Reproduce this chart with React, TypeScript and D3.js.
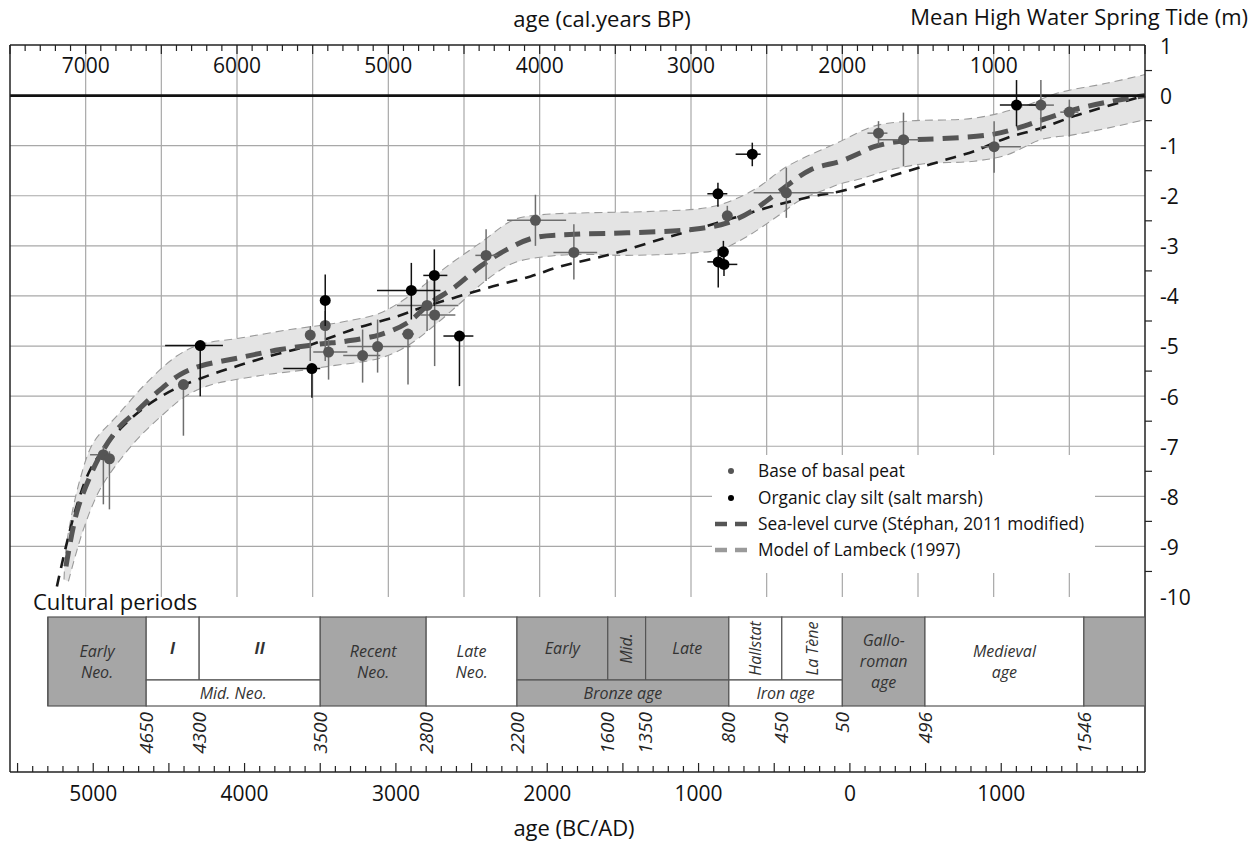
import React from 'react';
import * as d3 from 'd3';

const W = 1259;
const H = 841;

// index points: [age BP, level (m), oldest BP, youngest BP, upper m, lower m]
const basalPeat = [
  [6883, -7.17, 6971, 6825, -7.0, -8.16],
  [6843, -7.25, 6860, 6825, -7.1, -8.26],
  [6354, -5.77, 6370, 6340, -5.77, -6.79],
  [5516, -4.78, 5530, 5500, -4.6, -5.3],
  [5417, -4.59, 5430, 5405, -4.3, -5.3],
  [5395, -5.12, 5496, 5271, -4.87, -5.67],
  [5170, -5.19, 5298, 5053, -4.67, -5.73],
  [5071, -5.01, 5271, 4854, -4.47, -5.53],
  [4870, -4.76, 4910, 4830, -4.76, -5.77],
  [4744, -4.19, 4943, 4537, -3.67, -4.7],
  [4694, -4.38, 4788, 4557, -3.67, -5.4],
  [4354, -3.19, 4425, 4279, -2.67, -3.7],
  [4028, -2.49, 4215, 3825, -1.98, -3.0],
  [3774, -3.13, 3909, 3620, -2.57, -3.67],
  [2760, -2.4, 2770, 2750, -2.2, -2.5],
  [2370, -1.94, 2586, 2057, -1.44, -2.44],
  [1761, -0.75, 1834, 1702, -0.51, -0.98],
  [1596, -0.88, 1761, 1493, -0.34, -1.41],
  [997, -1.02, 1085, 820, -0.51, -1.54],
  [688, -0.19, 767, 602, 0.31, -0.71],
  [500, -0.33, 560, 440, -0.08, -0.82],
];

const saltMarsh = [
  [6243, -4.99, 6475, 6093, -4.99, -6.0],
  [5505, -5.45, 5694, 5450, -5.45, -6.03],
  [5417, -4.09, 5440, 5395, -3.57, -4.6],
  [4848, -3.89, 5075, 4656, -3.34, -4.47],
  [4696, -3.59, 4769, 4610, -3.07, -4.2],
  [4530, -4.8, 4636, 4438, -4.8, -5.8],
  [2822, -1.96, 2892, 2760, -1.74, -2.22],
  [2595, -1.17, 2705, 2540, -0.94, -1.41],
  [2786, -3.12, 2796, 2776, -2.9, -3.35],
  [2820, -3.32, 2892, 2760, -3.07, -3.83],
  [2782, -3.37, 2826, 2694, -3.2, -3.6],
  [849, -0.19, 959, 721, 0.31, -0.61],
];

// curves: [age BP, level (m)]
const stephanCurve = [
  [7130, -9.4], [7059, -8.32], [6971, -7.6], [6883, -7.07], [6772, -6.6], [6662, -6.3],
  [6530, -5.93], [6376, -5.57], [6243, -5.4], [5979, -5.23], [5714, -5.07], [5450, -4.96],
  [5273, -4.9], [5053, -4.77], [4876, -4.54], [4722, -4.14], [4568, -3.84], [4392, -3.41],
  [4215, -3.07], [4039, -2.84], [3774, -2.77], [3421, -2.74], [2981, -2.67], [2760, -2.54],
  [2584, -2.28], [2429, -1.94], [2209, -1.48], [2011, -1.31], [1878, -1.14], [1790, -1.02],
  [1570, -0.89], [1349, -0.86], [1019, -0.78], [842, -0.65], [644, -0.45], [468, -0.28],
  [247, -0.13], [0, 0],
];

const envelopeTop = [
  [7143, -9.66], [7125, -8.93], [7037, -7.66], [6949, -6.93], [6795, -6.4], [6596, -5.73],
  [6398, -5.2], [6243, -4.97], [5979, -4.84], [5648, -4.67], [5405, -4.57], [5273, -4.5],
  [5053, -4.34], [4833, -3.94], [4612, -3.41], [4392, -2.94], [4171, -2.48], [3995, -2.38],
  [3686, -2.34], [3245, -2.31], [2848, -2.21], [2584, -1.88], [2363, -1.41], [2032, -0.94],
  [1790, -0.61], [1570, -0.51], [1129, -0.45], [798, -0.21], [577, 0.05], [247, 0.25], [0, 0.42],
];

const envelopeBottom = [
  [7114, -9.7], [7015, -8.66], [6905, -7.86], [6772, -7.27], [6640, -6.8], [6464, -6.3],
  [6354, -6.03], [6199, -5.8], [5868, -5.6], [5538, -5.47], [5384, -5.4], [5053, -5.24],
  [4876, -5.0], [4700, -4.6], [4524, -4.14], [4347, -3.67], [4171, -3.34], [3951, -3.21],
  [3730, -3.17], [3421, -3.19], [2981, -3.14], [2804, -3.07], [2628, -2.81], [2429, -2.41],
  [2275, -2.08], [2099, -1.86], [2011, -1.76], [1878, -1.66], [1680, -1.48], [1460, -1.36],
  [1129, -1.31], [908, -1.18], [688, -0.88], [468, -0.78], [247, -0.65], [0, -0.48],
];

const lambeckModel = [
  [7190, -9.8], [7130, -9.0], [7060, -8.2], [6975, -7.5], [6880, -7.05], [6770, -6.65],
  [6600, -6.2], [6420, -5.87], [6199, -5.6], [5979, -5.38], [5758, -5.18], [5538, -5.0],
  [5400, -4.85], [5207, -4.64], [4943, -4.41], [4767, -4.22], [4568, -4.04], [4347, -3.84],
  [4061, -3.61], [3862, -3.41], [3532, -3.17], [3201, -2.87], [2937, -2.64], [2716, -2.44],
  [2429, -2.18], [2143, -1.98], [2011, -1.91], [1790, -1.71], [1570, -1.51], [1349, -1.31],
  [1129, -1.11], [908, -0.84], [688, -0.65], [468, -0.41], [247, -0.21], [0, 0],
];

const bpLabels = [7000, 6000, 5000, 4000, 3000, 2000, 1000];
const calLabels = [-5000, -4000, -3000, -2000, -1000, 0, 1000];
const levelLabels = [1, 0, -1, -2, -3, -4, -5, -6, -7, -8, -9, -10];

// cultural periods (calendar years, negative = BC)
const periodStart = -5300;
const periodBounds = [-4650, -4300, -3500, -2800, -2200, -1600, -1350, -800, -450, -50, 496, 1546];
const periods = [
  { name: 'Early|Neo.', from: -5300, to: -4650, row: 'full' },
  { name: 'I', from: -4650, to: -4300, row: 'top' },
  { name: 'II', from: -4300, to: -3500, row: 'top' },
  { name: 'Mid. Neo.', from: -4650, to: -3500, row: 'bottom' },
  { name: 'Recent|Neo.', from: -3500, to: -2800, row: 'full' },
  { name: 'Late|Neo.', from: -2800, to: -2200, row: 'full' },
  { name: 'Early', from: -2200, to: -1600, row: 'top' },
  { name: 'Mid.', from: -1600, to: -1350, row: 'topRot' },
  { name: 'Late', from: -1350, to: -800, row: 'top' },
  { name: 'Bronze age', from: -2200, to: -800, row: 'bottom' },
  { name: 'Hallstat', from: -800, to: -450, row: 'topRot' },
  { name: 'La Tène', from: -450, to: -50, row: 'topRot' },
  { name: 'Iron age', from: -800, to: -50, row: 'bottom' },
  { name: 'Gallo-|roman|age', from: -50, to: 496, row: 'full' },
  { name: 'Medieval|age', from: 496, to: 1546, row: 'full' },
  { name: '', from: 1546, to: 1950, row: 'full' },
];
const shadedPeriods = ['Early|Neo.', 'Recent|Neo.', 'Early', 'Mid.', 'Late', 'Bronze age', 'Gallo-|roman|age', ''];

const FONT = '"Open Sans", "DejaVu Sans", sans-serif';

export default function App() {
  const left = 10, right = 1145, top = 45, gridBottom = 597, frameBottom = 772;
  const boxTop = 617, boxMid = 680, boxBottom = 706;

  const x = d3.scaleLinear().domain([7500, 0]).range([left, right]);
  const xCal = d3.scaleLinear().domain([-5550, 1950]).range([left, right]);
  const y = d3.scaleLinear().domain([1, -10]).range([45.5, 596.5]);

  const line = d3.line<number[]>().x(d => x(d[0])).y(d => y(d[1])).curve(d3.curveCatmullRom.alpha(0.5));
  const upperPath = line(envelopeTop) as string;
  const lowerRev = line(envelopeBottom.slice().reverse()) as string;
  const bandPath = upperPath + 'L' + lowerRev.slice(1) + 'Z';

  const bpTicks = d3.range(7500, -1, -100);
  const calTicks = d3.range(-5500, 1951, 100);
  const halfTicks = d3.range(0.5, -10.5, -1);
  const gridX = d3.range(7000, 0, -500);
  const gridY = d3.range(-1, -10, -1);

  const rowY = (row: string) => {
    if (row === 'top' || row === 'topRot') return [boxTop, boxMid];
    if (row === 'bottom') return [boxMid, boxBottom];
    return [boxTop, boxBottom];
  };

  const drawPoints = (pts: number[][], color: string, barColor: string, key: string) => (
    <g key={key}>
      {pts.map((p, i) => (
        <g key={i}>
          <line x1={x(p[2])} x2={x(p[3])} y1={y(p[1])} y2={y(p[1])} stroke={barColor} strokeWidth={1.5} />
          <line x1={x(p[0])} x2={x(p[0])} y1={y(p[4])} y2={y(p[5])} stroke={barColor} strokeWidth={1.5} />
        </g>
      ))}
      {pts.map((p, i) => (
        <circle key={'c' + i} cx={x(p[0])} cy={y(p[1])} r={5.5} fill={color} />
      ))}
    </g>
  );

  return (
    <svg width={W} height={H} style={{ position: 'absolute', left: 0, top: 0, background: '#fff' }} fontFamily={FONT}>
      <rect x={0} y={0} width={W} height={H} fill="#fff" />

      {/* grid */}
      {gridX.map(v => (
        <line key={'gx' + v} x1={x(v)} x2={x(v)} y1={top} y2={gridBottom} stroke="#a8a8a8" strokeWidth={1.2} />
      ))}
      {gridY.map(v => (
        <line key={'gy' + v} x1={left} x2={right} y1={y(v)} y2={y(v)} stroke="#a8a8a8" strokeWidth={1.2} />
      ))}

      {/* legend background */}
      <rect x={712} y={455} width={383} height={118} fill="#fff" />

      {/* envelope and curves */}
      <path d={bandPath} fill="#e4e4e4" stroke="none" />
      <path d={upperPath} fill="none" stroke="#9a9a9a" strokeWidth={1.1} strokeDasharray="8,5" />
      <path d={line(envelopeBottom) as string} fill="none" stroke="#9a9a9a" strokeWidth={1.1} strokeDasharray="8,5" />
      <path d={line(lambeckModel) as string} fill="none" stroke="#1a1a1a" strokeWidth={2.6} strokeDasharray="11,8" />
      <path d={line(stephanCurve) as string} fill="none" stroke="#555" strokeWidth={5} strokeDasharray="16,9" />

      {/* zero line */}
      <line x1={left} x2={right} y1={y(0)} y2={y(0)} stroke="#111" strokeWidth={2.6} />

      {drawPoints(basalPeat, '#555', '#6e6e6e', 'peat')}
      {drawPoints(saltMarsh, '#000', '#111', 'clay')}

      {/* frame */}
      <line x1={left} x2={right} y1={top} y2={top} stroke="#222" strokeWidth={1.5} />
      <line x1={left} x2={left} y1={top} y2={frameBottom} stroke="#222" strokeWidth={1.5} />
      <line x1={right} x2={right} y1={top} y2={frameBottom} stroke="#222" strokeWidth={1.5} />
      <line x1={left} x2={right} y1={frameBottom} y2={frameBottom} stroke="#222" strokeWidth={1.5} />

      {/* top axis (BP) */}
      {bpTicks.map(v => (
        <line key={'tb' + v} x1={x(v)} x2={x(v)} y1={top} y2={top + (v % 500 === 0 ? 9 : 6)} stroke="#222" strokeWidth={1.2} />
      ))}
      {bpLabels.map(v => (
        <text key={'lb' + v} x={x(v)} y={72.5} textAnchor="middle" fontSize={21} fill="#111">{v}</text>
      ))}
      <text x={602} y={27} textAnchor="middle" fontSize={22} fill="#111">age (cal.years BP)</text>

      {/* bottom axis (BC/AD) */}
      {calTicks.map(v => (
        <line key={'tc' + v} x1={xCal(v)} x2={xCal(v)} y1={frameBottom} y2={frameBottom - (v % 500 === 0 ? 9 : 6)} stroke="#222" strokeWidth={1.2} />
      ))}
      {calLabels.map(v => (
        <text key={'lc' + v} x={xCal(v)} y={800.5} textAnchor="middle" fontSize={21} fill="#111">{Math.abs(v)}</text>
      ))}
      <text x={574} y={836} textAnchor="middle" fontSize={22} fill="#111">age (BC/AD)</text>

      {/* right axis */}
      {halfTicks.map(v => (
        <line key={'th' + v} x1={right} x2={right + 7} y1={y(v)} y2={y(v)} stroke="#222" strokeWidth={1.2} />
      ))}
      {levelLabels.map(v => (
        <text key={'ly' + v} x={1160} y={y(v)} dy="0.4em" fontSize={21} fill="#111">{v}</text>
      ))}
      <text x={1248} y={25} textAnchor="end" fontSize={22} fill="#111">Mean High Water Spring Tide (m)</text>

      {/* legend */}
      <g fontSize={17.3} fill="#111">
        <circle cx={731} cy={471} r={3} fill="#555" />
        <text x={758} y={477}>Base of basal peat</text>
        <circle cx={731} cy={498} r={3} fill="#000" />
        <text x={758} y={504}>Organic clay silt (salt marsh)</text>
        <line x1={715} x2={749} y1={524} y2={524} stroke="#555" strokeWidth={4.5} strokeDasharray="12,8" />
        <text x={758} y={530}>Sea-level curve (Stéphan, 2011 modified)</text>
        <line x1={715} x2={749} y1={550} y2={550} stroke="#9a9a9a" strokeWidth={4.5} strokeDasharray="12,8" />
        <text x={758} y={556}>Model of Lambeck (1997)</text>
      </g>

      {/* cultural periods */}
      <text x={33} y={610} fontSize={22} fill="#111">Cultural periods</text>
      {periods.map((p, i) => {
        const [y0, y1] = rowY(p.row);
        const x0 = xCal(p.from);
        const x1 = xCal(p.to);
        const cx = (x0 + x1) / 2;
        const cy = (y0 + y1) / 2;
        const lines = p.name ? p.name.split('|') : [];
        const roman = p.name === 'I' || p.name === 'II';
        return (
          <g key={'p' + i}>
            <rect x={x0} y={y0} width={x1 - x0} height={y1 - y0}
              fill={shadedPeriods.includes(p.name) ? '#a6a6a6' : '#fff'} stroke="#555" strokeWidth={1.2} />
            {p.row === 'topRot' ? (
              <text transform={`translate(${cx},${cy}) rotate(-90)`} textAnchor="middle" dy="0.35em"
                fontSize={16} fontStyle="italic" fill="#333">{p.name}</text>
            ) : (
              lines.map((t, j) => (
                <text key={j} x={cx} y={cy + (j - (lines.length - 1) / 2) * 21} dy="0.35em" textAnchor="middle"
                  fontSize={16} fontStyle="italic" fontWeight={roman ? 700 : 400} fill="#333">{t}</text>
              ))
            )}
          </g>
        );
      })}
      {periodBounds.map(v => (
        <text key={'pb' + v} transform={`translate(${xCal(v)},712) rotate(-90)`} textAnchor="end" dy="0.35em"
          fontSize={19} fontStyle="italic" fill="#222">{Math.abs(v)}</text>
      ))}
      <line x1={xCal(periodStart)} x2={xCal(periodStart)} y1={boxTop} y2={boxBottom} stroke="#555" strokeWidth={1.2} />
    </svg>
  );
}
